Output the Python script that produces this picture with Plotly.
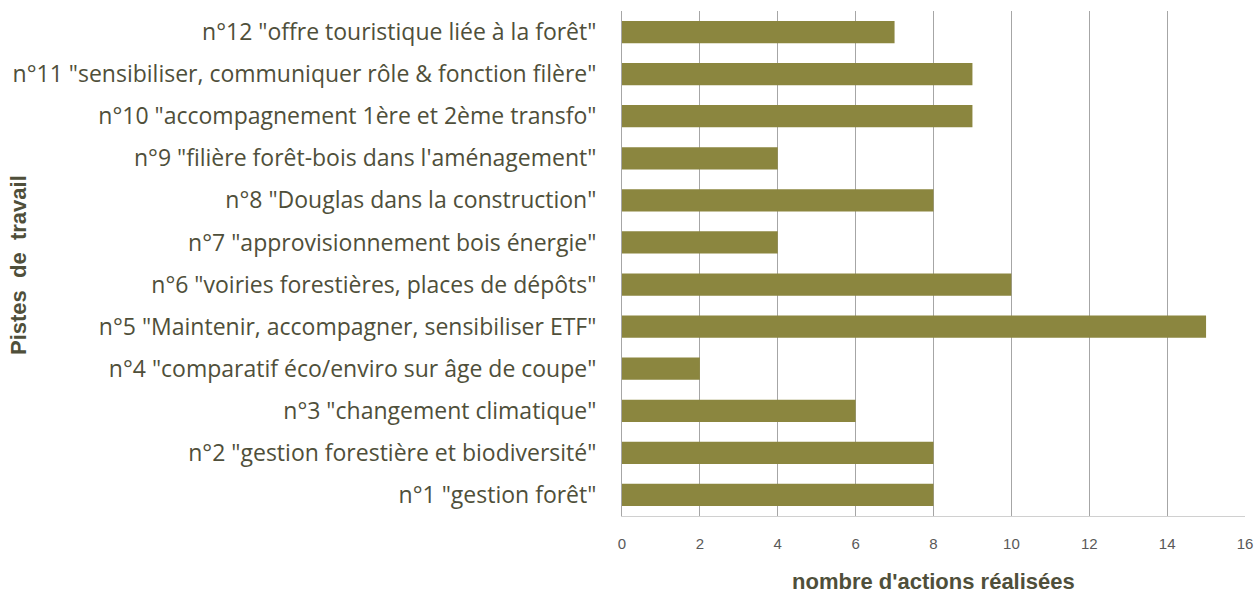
import plotly.graph_objects as go

categories = [
    'n°1 "gestion forêt"',
    'n°2 "gestion forestière et biodiversité"',
    'n°3 "changement climatique"',
    'n°4 "comparatif éco/enviro sur âge de coupe"',
    'n°5 "Maintenir, accompagner, sensibiliser ETF"',
    'n°6 "voiries forestières, places de dépôts"',
    'n°7 "approvisionnement bois énergie"',
    'n°8 "Douglas dans la construction"',
    'n°9 "filière forêt-bois dans l\'aménagement"',
    'n°10 "accompagnement 1ère et 2ème transfo"',
    'n°11 "sensibiliser, communiquer rôle & fonction filère"',
    'n°12 "offre touristique liée à la forêt"',
]
values = [8, 8, 6, 2, 15, 10, 4, 8, 4, 9, 9, 7]
x_ticks = [0, 2, 4, 6, 8, 10, 12, 14, 16]

W, H = 1255, 596
L, T = 622, 11
R = W - 1245
B = H - 516
PW, PH = W - L - R, H - T - B

fig = go.Figure(go.Bar(
    x=values, y=categories, orientation="h",
    marker=dict(color="#8B863F", line=dict(width=0)),
))

fig.update_layout(
    width=W, height=H,
    margin=dict(l=L, r=R, t=T, b=B, autoexpand=False),
    paper_bgcolor="white", plot_bgcolor="white",
    bargap=0.47,
    showlegend=False,
    xaxis=dict(
        range=[0, 16], tickvals=x_ticks, showgrid=True, gridcolor="#A6A6A6", gridwidth=1,
        zeroline=False, showline=True, linecolor="#D0D0D0", linewidth=1,
        tickfont=dict(family="Liberation Sans, Arial", size=15, color="#595959"),
        ticklabelstandoff=14, automargin=False, fixedrange=True,
    ),
    yaxis=dict(
        type="category", showgrid=False, zeroline=False,
        showline=True, linecolor="#A6A6A6", linewidth=1,
        tickfont=dict(family="Open Sans", size=23, color="#4F4F3A"),
        ticklabelstandoff=20, automargin=False, fixedrange=True,
    ),
    annotations=[
        dict(text="<b>nombre d'actions réalisées</b>",
             xref="paper", x=(933 - L) / PW, yref="paper", y=-(581 - 516) / PH,
             xanchor="center", yanchor="middle", showarrow=False, borderpad=0,
             font=dict(family="Liberation Sans, Arial", size=22, color="#4F4F3A")),
        dict(text="<b>Pistes  de  travail</b>",
             xref="paper", x=-(L - 18) / PW, yref="paper", y=(516 - 265) / PH,
             xanchor="center", yanchor="middle", textangle=-90, showarrow=False,
             font=dict(family="Liberation Sans, Arial", size=22, color="#4F4F3A")),
    ],
)
fig.write_html(
    "out.html",
    config={"displayModeBar": False},
    post_script="document.body.style.margin='0';document.body.style.overflow='hidden';",
)
